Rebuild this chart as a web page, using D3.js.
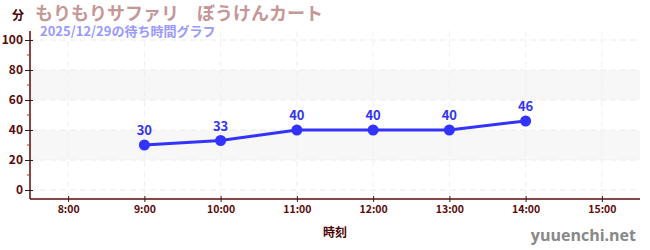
<!DOCTYPE html>
<html><head><meta charset="utf-8">
<script src="https://cdn.jsdelivr.net/npm/d3@7"></script>
<style>body{margin:0;background:#fff;}svg{display:block;font-family:"Noto Sans CJK JP","Noto Sans",sans-serif;}</style>
</head><body>
<svg id="c" width="650" height="250"></svg>
<script>
const hours = [9, 10, 11, 12, 13, 14];
const waits = [30, 33, 40, 40, 40, 46];
const xTickHours = [8, 9, 10, 11, 12, 13, 14, 15];
const xTickLabels = ["8:00","9:00","10:00","11:00","12:00","13:00","14:00","15:00"];
const yTicks = [0, 20, 40, 60, 80, 100];
const yMinorTicks = [10, 30, 50, 70, 90];
const bands = [[20, 40], [60, 80]];
const title = "もりもりサファリ　ぼうけんカート";
const subtitle = "2025/12/29の待ち時間グラフ";

const svg = d3.select("#c");
const L = 30, R = 640, T = 31, B = 199;
const x = d3.scaleLinear().domain([7.5, 15.5]).range([L, R]);
const y = d3.scaleLinear().domain([-6, 106]).range([B, T]);
const axisColor = "#5a0a0a";

// bands
svg.selectAll("rect.band").data(bands).enter().append("rect")
  .attr("x", L).attr("width", R - L)
  .attr("y", d => y(d[1])).attr("height", d => y(d[0]) - y(d[1]))
  .attr("fill", "#f7f7f7");

// grid
svg.selectAll("line.gy").data(yTicks).enter().append("line")
  .attr("x1", L).attr("x2", R).attr("y1", d => y(d)).attr("y2", d => y(d))
  .attr("stroke", "#ececec").attr("stroke-dasharray", "6,4");
svg.selectAll("line.gx").data(xTickHours).enter().append("line")
  .attr("x1", d => x(d)).attr("x2", d => x(d)).attr("y1", T).attr("y2", B)
  .attr("stroke", "#f0f0f0").attr("stroke-dasharray", "6,4");

// y axis
const yAxis = d3.axisLeft(y).tickValues(yTicks).tickSize(4).tickPadding(3);
const gy = svg.append("g").attr("transform", `translate(${L},0)`).call(yAxis);
gy.select(".domain").remove();
gy.selectAll(".tick line").attr("stroke", "#222").attr("x2", -5).attr("x1", 3);
gy.selectAll(".tick text").attr("fill", axisColor).attr("font-size", 12).attr("font-weight", "bold")
  .attr("font-family", "'Noto Sans CJK JP', sans-serif");
svg.append("line").attr("x1", L).attr("x2", L).attr("y1", T).attr("y2", B).attr("stroke", axisColor).attr("stroke-width", 1.5);
svg.selectAll("line.minor").data(yMinorTicks).enter().append("line")
  .attr("x1", L - 3).attr("x2", L).attr("y1", d => y(d)).attr("y2", d => y(d))
  .attr("stroke", "#e02020");

// x axis
const xAxis = d3.axisBottom(x).tickValues(xTickHours).tickFormat((d, i) => xTickLabels[i]).tickSize(4).tickPadding(3);
const gx = svg.append("g").attr("transform", `translate(0,${B})`).call(xAxis);
gx.select(".domain").remove();
gx.selectAll(".tick line").attr("stroke", "#222").attr("y1", -3).attr("y2", 3);
gx.selectAll(".tick text").attr("fill", axisColor).attr("font-size", 10.5).attr("font-weight", "bold")
  .attr("font-family", "'Noto Sans CJK JP', sans-serif");
svg.append("line").attr("x1", L).attr("x2", R).attr("y1", B).attr("y2", B).attr("stroke", axisColor).attr("stroke-width", 1.5);

// line
const pts = hours.map((h, i) => [h, waits[i]]);
svg.append("path").datum(pts)
  .attr("d", d3.line().x(d => x(d[0])).y(d => y(d[1])))
  .attr("fill", "none").attr("stroke", "#3333ff").attr("stroke-width", 3);
svg.selectAll("circle.p").data(pts).enter().append("circle")
  .attr("cx", d => x(d[0])).attr("cy", d => y(d[1])).attr("r", 5.5).attr("fill", "#3333ff");
svg.selectAll("text.v").data(pts).enter().append("text")
  .attr("x", d => x(d[0])).attr("y", d => y(d[1]) - 10)
  .attr("text-anchor", "middle").attr("fill", "#3333ee").attr("font-size", 13).attr("font-weight", "bold")
  .text(d => d[1]);

// titles
svg.append("text").attr("x", 35).attr("y", 20).attr("fill", "#c59797").attr("font-size", 18).attr("font-weight", "bold").text(title);
svg.append("text").attr("x", 40).attr("y", 36).attr("fill", "#9999ff").attr("font-size", 13).attr("font-weight", "bold").text(subtitle);
svg.append("text").attr("x", 12).attr("y", 20).attr("fill", "#4a0000").attr("font-size", 12).attr("font-weight", "bold").text("分");
svg.append("text").attr("x", (L + R) / 2).attr("y", 237).attr("text-anchor", "middle").attr("fill", "#4a0000").attr("font-size", 12).attr("font-weight", "bold").text("時刻");
svg.append("text").attr("x", 636).attr("y", 241).attr("text-anchor", "end").attr("fill", "#888").attr("font-size", 16).attr("font-weight", "bold").attr("font-family", "'Open Sans', sans-serif").text("yuuenchi.net");
</script>
</body></html>
